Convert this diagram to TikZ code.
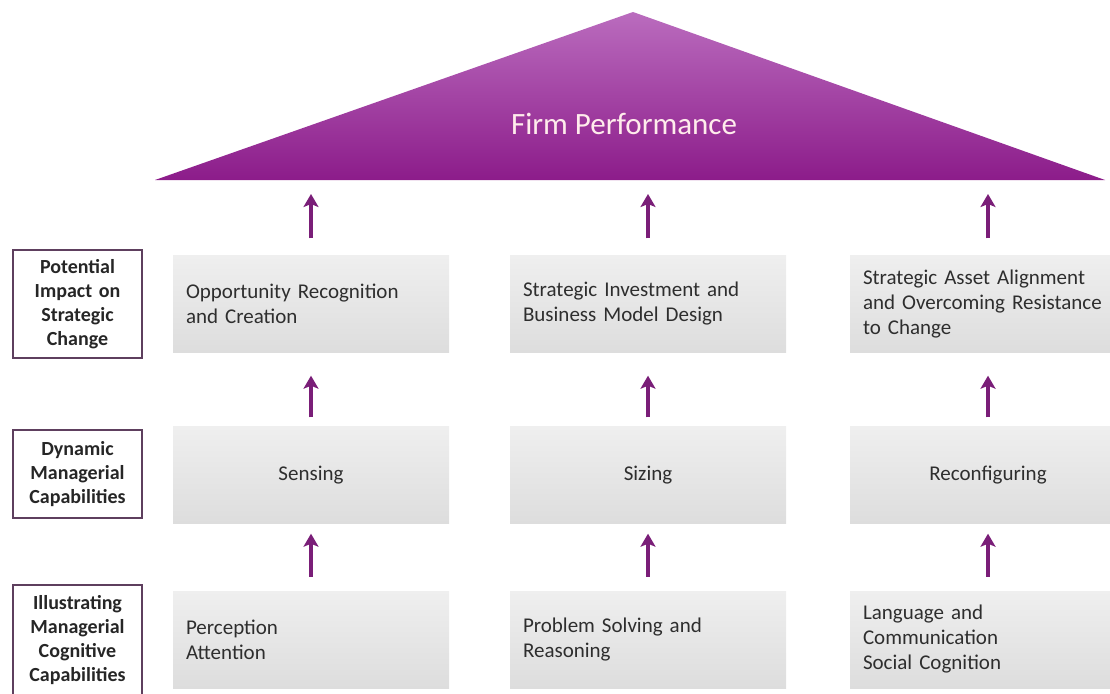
\documentclass[tikz,border=0pt]{standalone}
\usepackage{fontspec}
\setmainfont{Carlito}
\usepackage{tikz}
\usetikzlibrary{arrows.meta}
\definecolor{plumtop}{HTML}{BA6CBE}
\definecolor{plumbot}{HTML}{8C1C8A}
\definecolor{plumarrow}{HTML}{7A1E78}
\definecolor{plumline}{HTML}{5E3F5E}
\definecolor{celltop}{HTML}{EFEFEF}
\definecolor{cellbot}{HTML}{DDDDDD}
\definecolor{celltext}{HTML}{2E2E2E}

\begin{document}
\begin{tikzpicture}[x=1pt,y=-1pt,
    cell/.style={rectangle, minimum height=97pt, text width=250pt, inner xsep=13pt,
      align=left, top color=celltop, bottom color=cellbot, text=celltext,
      font=\fontsize{21}{25}\selectfont},
    mid/.style={cell, align=center},
    tier/.style={rectangle, draw=plumline, line width=1.3pt, minimum width=129pt,
      text width=120pt, align=center, text=black!85,
      font=\fontsize{20}{24}\selectfont\bfseries},
    uparrow/.style={draw=plumarrow, line width=3.6pt,
      -{Stealth[length=13pt,width=15pt,inset=3pt]}}]
  \useasboundingbox (0,0) rectangle (1110,693);

  % roof
  \coordinate (apex) at (633,12);
  \coordinate (baseL) at (155,180);
  \coordinate (baseR) at (1105,180);
  \shade[top color=plumtop, bottom color=plumbot] (apex) -- (baseR) -- (baseL) -- cycle;
  \node (perf) at (624,124) [text=pink!30, font=\fontsize{31}{36}\selectfont] {Firm Performance};

  % tiers on the left
  \node (impact) at (77.5,304) [tier, minimum height=108pt] {Potential\\Impact on\\Strategic\\Change};
  \node (dynamic) at (77.5,474) [tier, minimum height=88pt] {Dynamic\\Managerial\\Capabilities};
  \node (cognitive) at (77.5,640) [tier, minimum height=110pt] {Illustrating\\Managerial\\Cognitive\\Capabilities};

  % top row
  \node (r1c1) at (311,304) [cell] {Opportunity Recognition\\and Creation};
  \node (r1c2) at (648,304) [cell] {Strategic Investment and\\Business Model Design};
  \node (r1c3) at (988,304) [cell] {Strategic Asset Alignment\\and Overcoming Resistance\\to Change};

  % middle row
  \node (r2c1) at (311,475) [mid] {Sensing};
  \node (r2c2) at (648,475) [mid] {Sizing};
  \node (r2c3) at (988,475) [mid] {Reconfiguring};

  % bottom row
  \node (r3c1) at (311,639.5) [cell] {Perception\\Attention};
  \node (r3c2) at (648,639.5) [cell] {Problem Solving and\\Reasoning};
  \node (r3c3) at (988,639.5) [cell] {Language and\\Communication\\Social Cognition};

  \foreach \c in {1,2,3} {
    \draw[uparrow, shorten <=17pt, shorten >=14pt] (r1c\c.north) -- (r1c\c.north |- baseL);
    \draw[uparrow, shorten <=9pt, shorten >=23pt] (r2c\c.north) -- (r1c\c.south);
    \draw[uparrow, shorten <=14pt, shorten >=10pt] (r3c\c.north) -- (r2c\c.south);
  }
\end{tikzpicture}
\end{document}
